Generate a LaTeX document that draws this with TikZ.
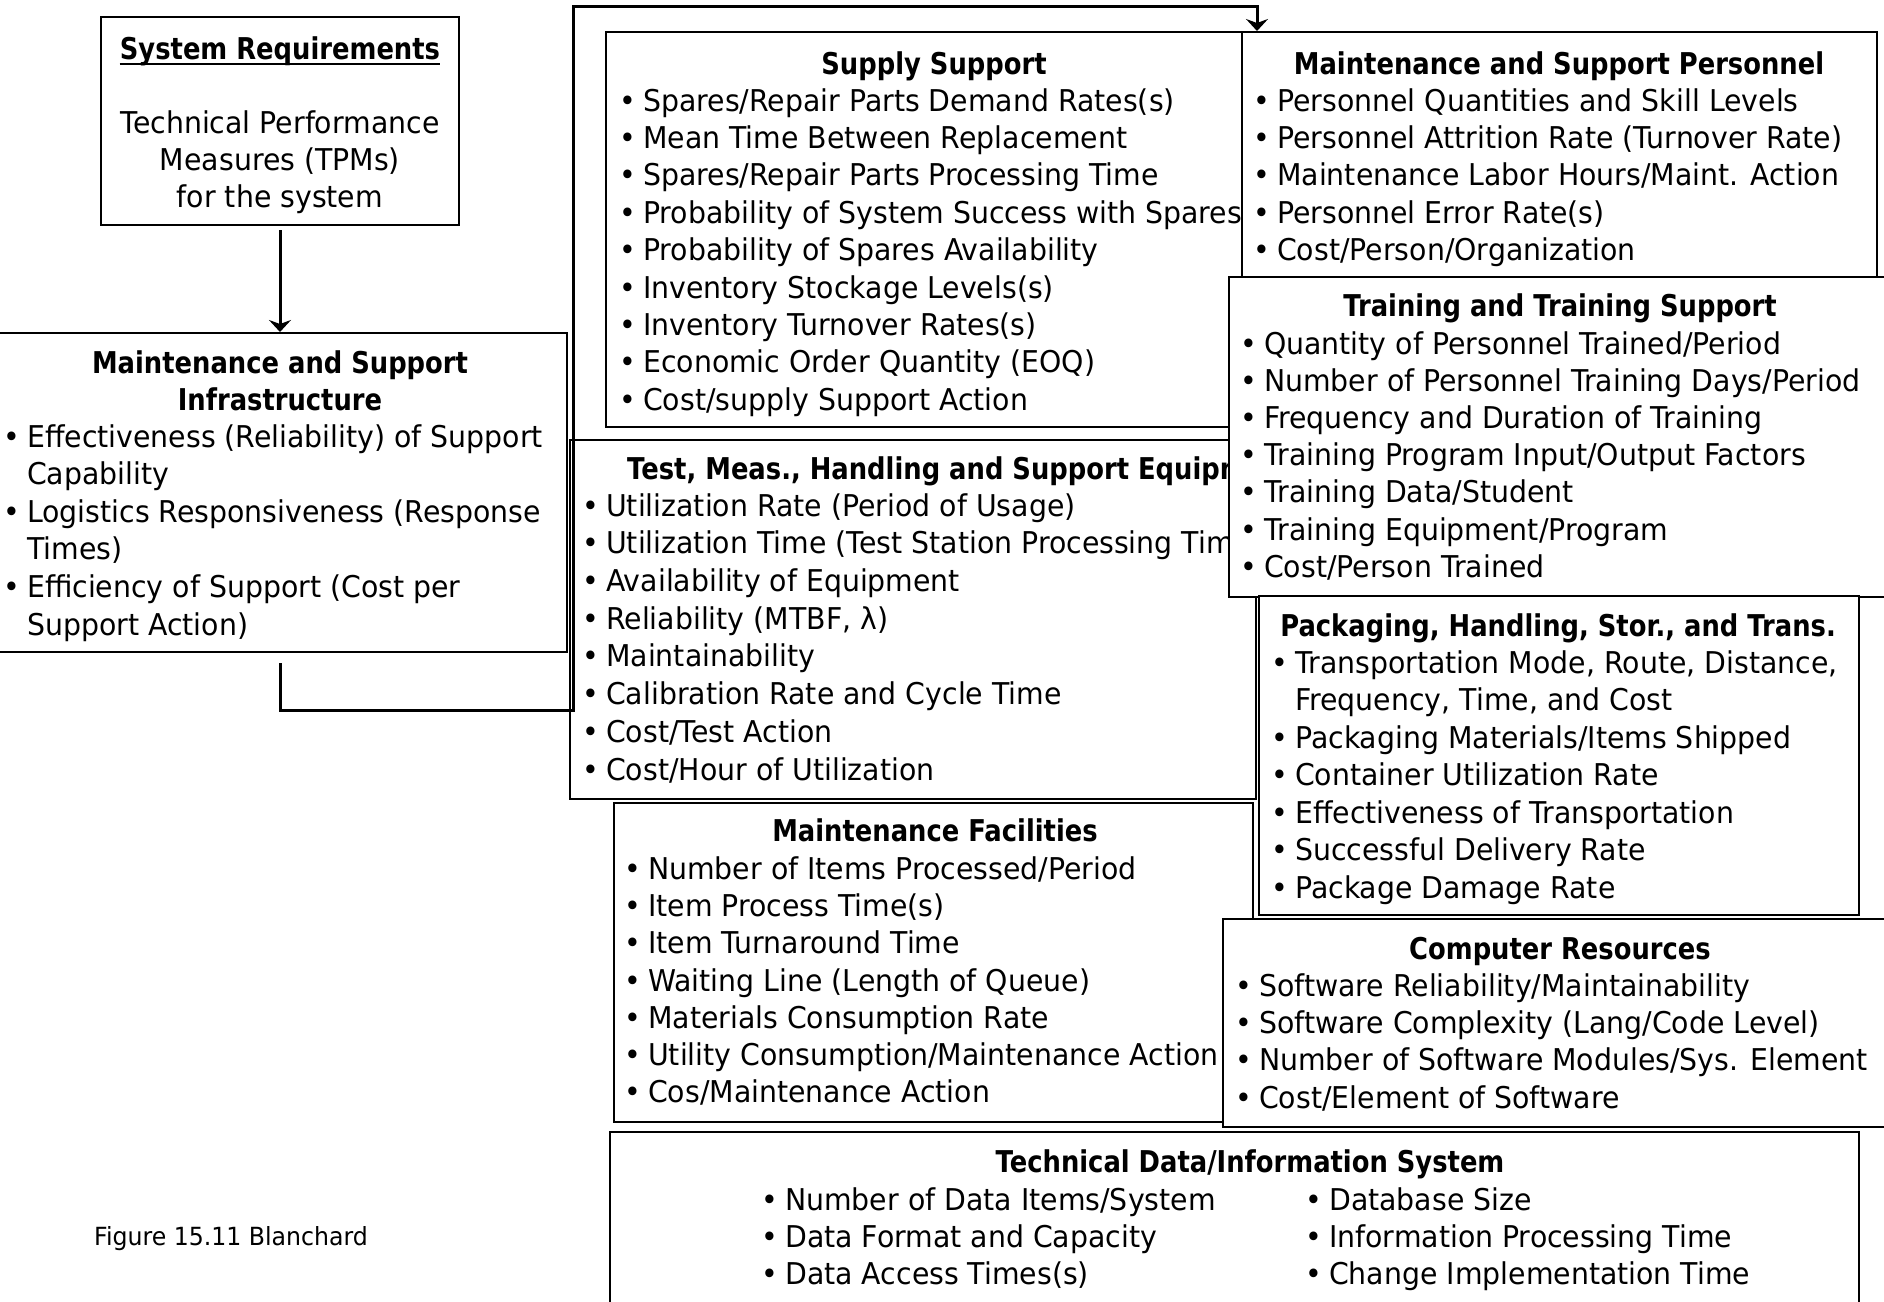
\documentclass[tikz,border=0pt]{standalone}
\usepackage{fontspec}
\usetikzlibrary{arrows.meta}
\newfontfamily\bodyfont{DejaVu Sans}[FakeStretch=0.945]
\newfontfamily\headfont{DejaVu Sans}[FakeStretch=0.86]
\newcommand\bul{\llap{\textbullet\hspace{7pt}}}
\tikzset{
  box/.style={draw, line width=2pt, fill=white, inner sep=0pt},
  item/.style={anchor=mid west, inner sep=0pt, yshift=-5pt, font=\bodyfont\fontsize{30}{36}\selectfont},
  plain/.style={anchor=mid, inner sep=0pt, yshift=-5pt, font=\bodyfont\fontsize{30}{36}\selectfont},
  head/.style={anchor=mid, inner sep=0pt, yshift=-5pt, font=\headfont\bfseries\fontsize{30}{36}\selectfont},
  conn/.style={line width=3pt},
  arr/.style={line width=3pt, -{Stealth[length=12pt,width=22pt,inset=4pt]}},
}
\begin{document}
\begin{tikzpicture}[x=1pt,y=-1pt]
\fill[white] (0,0) rectangle (1884,1301);
\useasboundingbox (0,0) rectangle (1884,1301);

% System requirements
\node[box, minimum width=358pt, minimum height=208pt] (sysreq) at (280,121) {};
\node[head] (srt) at (280,52) {System Requirements};
\draw[line width=2pt] ([yshift=-5pt]srt.base west) -- ([yshift=-5pt]srt.base east);
\node[plain] (sr1) at (280,126) {Technical Performance};
\node[plain] (sr2) at (280,163) {Measures (TPMs)};
\node[plain] (sr3) at (280,200) {for the system};

% Infrastructure
\node[box, minimum width=574pt, minimum height=319pt] (infra) at (280,492.5) {};
\node[head] (inft1) at (280,366) {Maintenance and Support};
\node[head] (inft2) at (280,403) {Infrastructure};
\foreach \t [count=\i] in {\bul Effectiveness (Reliability) of Support, Capability,
  \bul Logistics Responsiveness (Response, Times),
  \bul Efficiency of Support (Cost per, Support Action)}
  \node[item] (inf\i) at (27,{440+37.6*(\i-1)}) {\t};

% Supply support
\node[box, minimum width=636pt, minimum height=395pt] (supply) at (924,229.5) {};
\node[head] (supt) at (934,67) {Supply Support};
\foreach \t [count=\i] in {Spares/Repair Parts Demand Rates(s), Mean Time Between Replacement,
  Spares/Repair Parts Processing Time, Probability of System Success with Spares,
  Probability of Spares Availability, Inventory Stockage Levels(s),
  Inventory Turnover Rates(s), Economic Order Quantity (EOQ), Cost/supply Support Action}
  \node[item] (sup\i) at (643,{104+37.4*(\i-1)}) {\bul\t};

% Personnel
\node[box, minimum width=635pt, minimum height=245pt] (pers) at (1559.5,154.5) {};
\node[head] (pert) at (1559,67) {Maintenance and Support Personnel};
\foreach \t [count=\i] in {Personnel Quantities and Skill Levels, Personnel Attrition Rate (Turnover Rate),
  Maintenance Labor Hours/Maint. Action, Personnel Error Rate(s), Cost/Person/Organization}
  \node[item] (per\i) at (1277,{104+37.4*(\i-1)}) {\bul\t};

% Test equipment
\node[box, minimum width=686pt, minimum height=359pt] (test) at (913,619.5) {};
\node[head, anchor=mid west] (tstt) at (627,472) {Test, Meas., Handling and Support Equipment};
\foreach \t [count=\i] in {Utilization Rate (Period of Usage), Utilization Time (Test Station Processing Time),
  Availability of Equipment, {Reliability (MTBF, λ)}, Maintainability,
  Calibration Rate and Cycle Time, Cost/Test Action, Cost/Hour of Utilization}
  \node[item] (tst\i) at (606,{509+37.7*(\i-1)}) {\bul\t};

% Training
\node[box, minimum width=661pt, minimum height=320pt] (train) at (1559.5,437) {};
\node[head] (trnt) at (1560,309) {Training and Training Support};
\foreach \t [count=\i] in {Quantity of Personnel Trained/Period, Number of Personnel Training Days/Period,
  Frequency and Duration of Training, Training Program Input/Output Factors,
  Training Data/Student, Training Equipment/Program, Cost/Person Trained}
  \node[item] (trn\i) at (1264,{347+37.2*(\i-1)}) {\bul\t};

% Packaging
\node[box, minimum width=600pt, minimum height=319pt] (pack) at (1559,755.5) {};
\node[head] (pakt) at (1558,629) {Packaging, Handling, Stor., and Trans.};
\foreach \t [count=\i] in {{\bul Transportation Mode, Route, Distance,}, {Frequency, Time, and Cost},
  \bul Packaging Materials/Items Shipped, \bul Container Utilization Rate,
  \bul Effectiveness of Transportation, \bul Successful Delivery Rate, \bul Package Damage Rate}
  \node[item] (pak\i) at (1295,{666+37.5*(\i-1)}) {\t};

% Maintenance facilities
\node[box, minimum width=639pt, minimum height=319pt] (mf) at (933.5,962.5) {};
\node[head] (mft) at (935,834) {Maintenance Facilities};
\foreach \t [count=\i] in {Number of Items Processed/Period, Item Process Time(s), Item Turnaround Time,
  Waiting Line (Length of Queue), Materials Consumption Rate,
  Utility Consumption/Maintenance Action, Cos/Maintenance Action}
  \node[item] (mf\i) at (648,{872+37.3*(\i-1)}) {\bul\t};

% Computer resources
\node[box, minimum width=667pt, minimum height=208pt] (comp) at (1556.5,1023) {};
\node[head] (cmpt) at (1560,952) {Computer Resources};
\foreach \t [count=\i] in {Software Reliability/Maintainability, Software Complexity (Lang/Code Level),
  Number of Software Modules/Sys. Element, Cost/Element of Software}
  \node[item] (cmp\i) at (1259,{989+37.3*(\i-1)}) {\bul\t};

% Technical data
\node[box, minimum width=1249pt, minimum height=178pt] (tech) at (1234.5,1221) {};
\node[head] (tcht) at (1250,1165) {Technical Data/Information System};
\foreach \t [count=\i] in {Number of Data Items/System, Data Format and Capacity, Data Access Times(s)}
  \node[item] (tcl\i) at (785,{1203+37*(\i-1)}) {\bul\t};
\foreach \t [count=\i] in {Database Size, Information Processing Time, Change Implementation Time}
  \node[item] (tcr\i) at (1329,{1203+37*(\i-1)}) {\bul\t};

% Caption
\node[anchor=mid west, inner sep=0pt, yshift=-5pt, font=\bodyfont\fontsize{25}{30}\selectfont] (cap) at (94,1238) {Figure 15.11 Blanchard};

% Connectors
\coordinate (jA) at (573,710);
\coordinate (jB) at (573,6);
\draw[arr, shorten <=4pt] (sysreq.south) -- (infra.north);
\draw[arr, shorten <=10pt] (infra.south) |- (jA) -- (jB) -| ([xshift=16pt]pers.north west);
\end{tikzpicture}
\end{document}
